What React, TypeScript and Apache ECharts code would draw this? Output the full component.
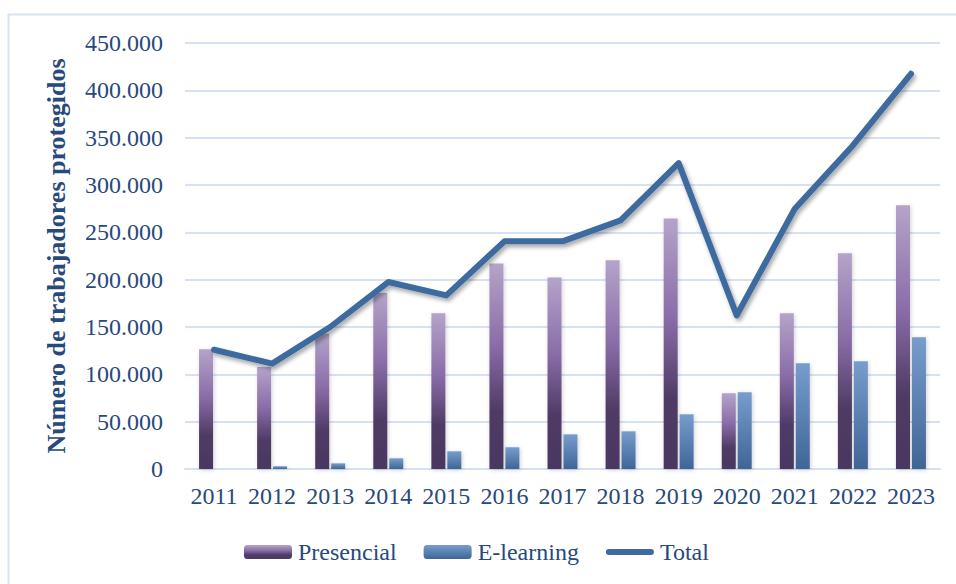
import React, { useEffect, useRef } from "react";
import * as echarts from "echarts";

const years = ["2011", "2012", "2013", "2014", "2015", "2016", "2017", "2018", "2019", "2020", "2021", "2022", "2023"];
const presencial = [126400, 107700, 143000, 185900, 164400, 217200, 202400, 220400, 264700, 79900, 164400, 227800, 278500];
const elearning = [0, 2900, 6000, 11300, 18700, 22900, 36600, 39800, 57800, 81000, 111600, 113700, 139100];
const total = [126000, 111300, 150000, 197500, 183400, 240500, 240500, 262600, 323100, 162300, 275000, 341800, 417500];

const FONT = "'Liberation Serif', 'DejaVu Serif', serif";
const TXT = "#28497c";
const LINE_ICON = "path://M0,0 M48,14 M3,4 L45,4 A3,3 0 0 1 45,10 L3,10 A3,3 0 0 1 3,4 Z";

export default function App() {
  const ref = useRef<HTMLDivElement>(null);
  useEffect(() => {
    if (!ref.current) return;
    const chart = echarts.init(ref.current, undefined, { renderer: "svg" });
    chart.setOption({
      animation: false,
      backgroundColor: "#ffffff",
      textStyle: { fontFamily: FONT, color: TXT },
      graphic: [
        { type: "line", shape: { x1: 8.5, y1: 14, x2: 8.5, y2: 584 }, style: { stroke: "#d9e4f2", lineWidth: 2 } },
        { type: "line", shape: { x1: 8, y1: 14.5, x2: 956, y2: 14.5 }, style: { stroke: "#d9e4f2", lineWidth: 2 } },
      ],
      grid: { left: 185, right: 16, top: 43, bottom: 115 },
      legend: {
        left: 244,
        top: 540,
        padding: 0,
        itemWidth: 48,
        itemHeight: 14,
        itemGap: 27,
        textStyle: { fontFamily: FONT, fontSize: 24, color: TXT, padding: [0, 0, 0, 1] },
        data: [
          { name: "Presencial" },
          { name: "E-learning" },
          { name: "Total", icon: LINE_ICON, itemStyle: { color: "#3e6a9f" } },
        ],
      },
      xAxis: {
        type: "category",
        data: years,
        axisLine: { lineStyle: { color: "#d6e2f3", width: 2 } },
        axisTick: { show: false },
        axisLabel: { fontFamily: FONT, fontSize: 24, color: TXT, margin: 15, interval: 0 },
      },
      yAxis: {
        type: "value",
        min: 0,
        max: 450000,
        interval: 50000,
        name: "Número de trabajadores protegidos",
        nameLocation: "middle",
        nameGap: 116,
        nameTextStyle: { fontFamily: FONT, fontSize: 26, fontWeight: "bold", color: TXT },
        axisLine: { show: false },
        axisTick: { show: false },
        splitLine: { lineStyle: { color: "#d6e2f3", width: 2 } },
        axisLabel: {
          fontFamily: FONT,
          fontSize: 24,
          color: TXT,
          margin: 22,
          formatter: (v: number) => (v === 0 ? "0" : v.toLocaleString("de-DE")),
        },
      },
      series: [
        {
          name: "Presencial",
          type: "bar",
          data: presencial,
          barWidth: 14,
          barGap: "14%",
          itemStyle: {
            color: new echarts.graphic.LinearGradient(0, 0, 0, 1, [
              { offset: 0, color: "#b4a4c9" },
              { offset: 0.4, color: "#8a6ca8" },
              { offset: 0.72, color: "#4e3b65" },
              { offset: 1, color: "#4a3861" },
            ]),
            shadowColor: "rgba(0,0,0,0.18)",
            shadowBlur: 4,
            shadowOffsetX: 1,
            shadowOffsetY: 1,
          },
        },
        {
          name: "E-learning",
          type: "bar",
          data: elearning,
          barWidth: 14,
          itemStyle: {
            color: new echarts.graphic.LinearGradient(0, 0, 0, 1, [
              { offset: 0, color: "#779dcd" },
              { offset: 1, color: "#3f6597" },
            ]),
            shadowColor: "rgba(0,0,0,0.18)",
            shadowBlur: 4,
            shadowOffsetX: 1,
            shadowOffsetY: 1,
          },
        },
        {
          name: "Total",
          type: "line",
          data: total,
          symbol: "none",
          showSymbol: false,
          lineStyle: {
            color: "#3e6a9f",
            width: 6,
            cap: "round",
            join: "round",
            shadowColor: "rgba(0,0,0,0.35)",
            shadowBlur: 4,
            shadowOffsetX: 2,
            shadowOffsetY: 3,
          },
          itemStyle: { color: "#3e6a9f" },
        },
      ],
    });
    return () => chart.dispose();
  }, []);
  return <div ref={ref} style={{ position: "fixed", left: 0, top: 0, width: 956, height: 584 }} />;
}
